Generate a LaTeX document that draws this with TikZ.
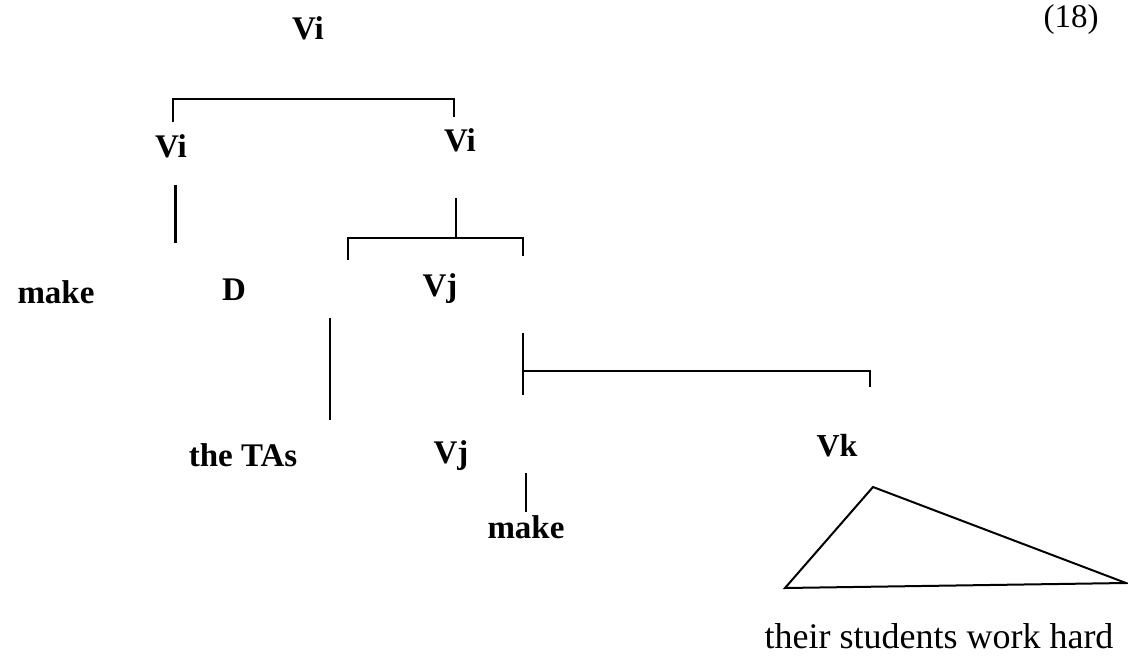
\documentclass[tikz,border=0pt]{standalone}
\usepackage{fontspec}
\setmainfont{Liberation Serif}
\begin{document}
\begin{tikzpicture}[x=1pt,y=-1pt,
  lab/.style={font=\fontsize{33}{35}\selectfont\bfseries, inner sep=0pt, anchor=base},
  word/.style={font=\fontsize{35}{37}\selectfont, inner sep=0pt, anchor=base},
  ln/.style={line width=2pt, line cap=butt}]
\useasboundingbox (0,0) rectangle (1128,659);
% labels
\node[lab] (vtop) at (308,39) {Vi};
\node[word,font=\fontsize{33}{35}\selectfont] (num) at (1071,27) {(18)};
\node[lab] (vil) at (171,157) {Vi};
\node[lab] (vir) at (460,151) {Vi};
\node[lab] (make1) at (56,303) {make};
\node[lab] (d) at (234,300) {D};
\node[lab] (vj) at (440,296) {Vj};
\node[lab] (tas) at (243,466) {the TAs};
\node[lab] (vj2) at (451,463) {Vj};
\node[lab, font=\fontsize{32}{34}\selectfont\bfseries] (vk) at (837,456) {Vk};
\node[lab] (make2) at (526,538) {make};
\node[word,font=\fontsize{36}{38}\selectfont] (words) at (939,648) {their students work hard};
% bracket coordinates
\coordinate (a1) at (173,122); \coordinate (a2) at (173,99);
\coordinate (a3) at (454,99); \coordinate (a4) at (454,117);
\coordinate (b1) at (175,185); \coordinate (b2) at (175,243);
\coordinate (c1) at (456,198); \coordinate (c2) at (456,238);
\coordinate (d1) at (348,260); \coordinate (d2) at (348,238);
\coordinate (d3) at (523,238); \coordinate (d4) at (523,256);
\coordinate (e1) at (330,318); \coordinate (e2) at (330,420);
\coordinate (f1) at (523,333); \coordinate (f2) at (523,395);
\coordinate (f3) at (523,371); \coordinate (f4) at (870,371); \coordinate (f5) at (870,387);
\coordinate (g1) at (526,473); \coordinate (g2) at (526,512);
\coordinate (t1) at (873,487); \coordinate (t2) at (785,588); \coordinate (t3) at (1126,583);
% lines
\draw[ln, line width=2.6pt] (a1) -- (a2) -- (a3) -- (a4);
\draw[ln, line width=3pt] (b1) -- (b2);
\draw[ln] (c1) -- (c2);
\draw[ln, line width=2.6pt] (d1) -- (d2) -- (d3) -- (d4);
\draw[ln] (e1) -- (e2);
\draw[ln] (f1) -- (f2);
\draw[ln] (f3) -- (f4) -- (f5);
\draw[ln, line width=1.5pt] (g1) -- (g2);
\draw[ln, line join=miter] (t1) -- (t2) -- (t3) -- cycle;
\end{tikzpicture}
\end{document}
